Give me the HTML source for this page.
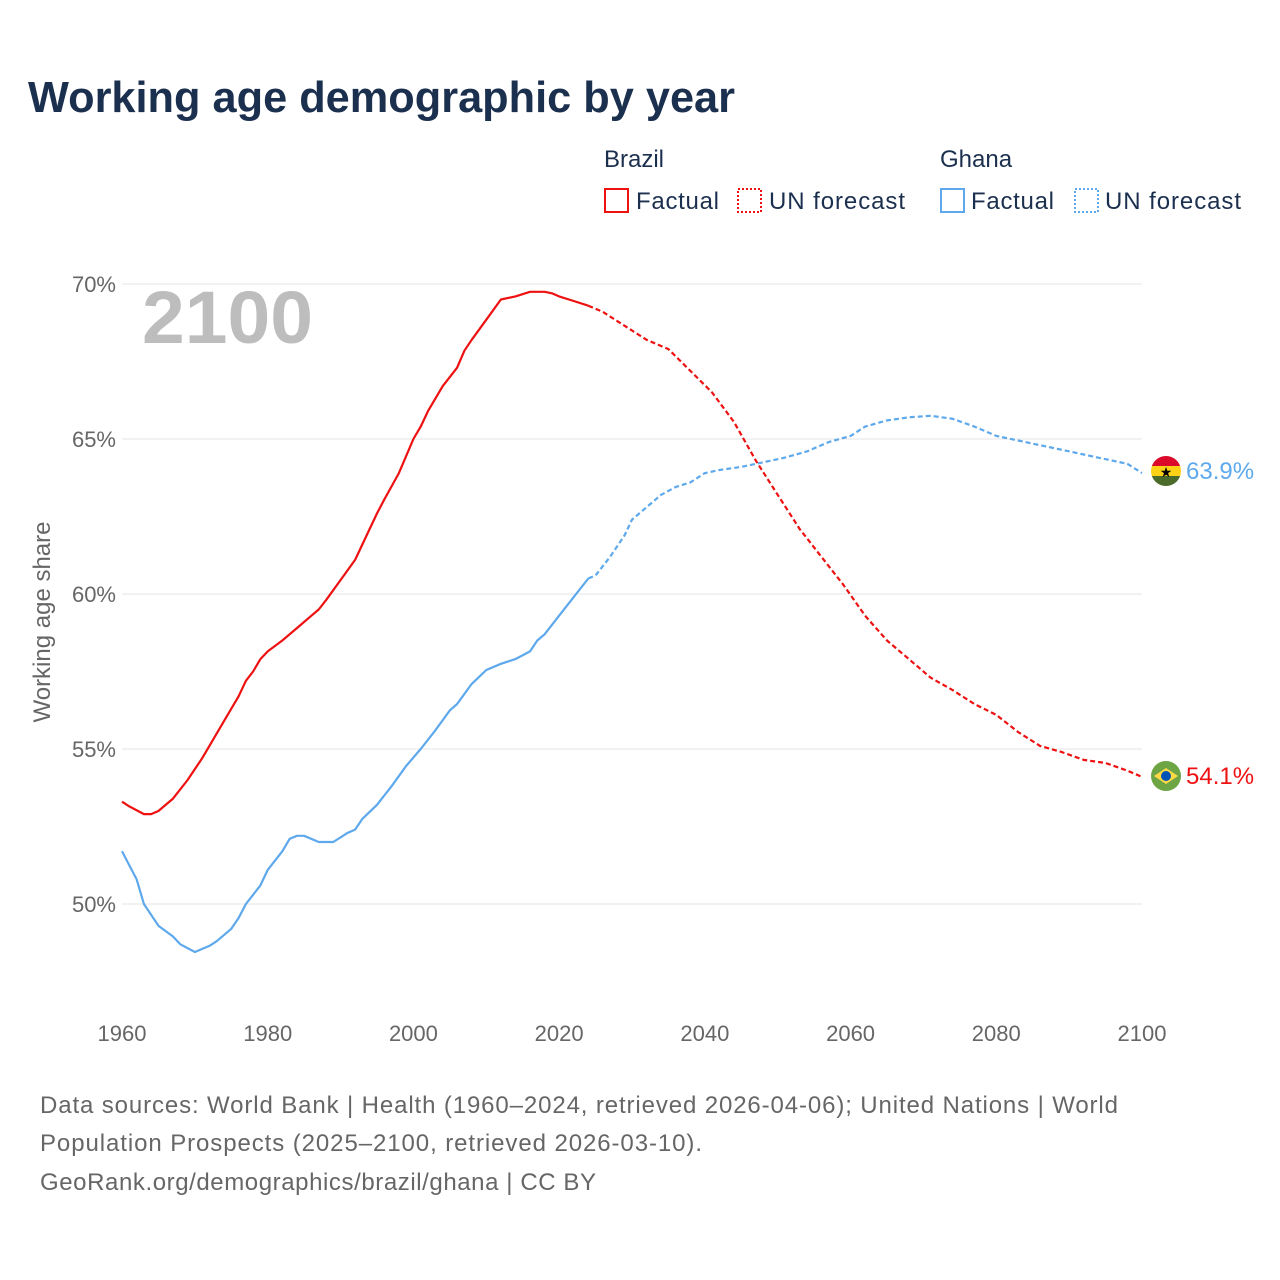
<!DOCTYPE html>
<html><head><meta charset="utf-8"><style>
html,body{margin:0;padding:0;background:#fff;width:1280px;height:1280px;overflow:hidden}
svg{display:block;font-family:"Liberation Sans",sans-serif}
</style></head><body>
<svg id="chart" width="1280" height="1280" viewBox="0 0 1280 1280">
<text x="28" y="112" font-size="44" font-weight="bold" fill="#1b2f4e" textLength="707" lengthAdjust="spacingAndGlyphs">Working age demographic by year</text>
<g font-size="24" fill="#1b2f4e">
<text x="604" y="167">Brazil</text>
<text x="940" y="167">Ghana</text>
<rect x="605" y="189" width="23" height="23" fill="none" stroke="#ee1111" stroke-width="2"/>
<text x="636" y="209" textLength="83">Factual</text>
<rect x="738" y="189" width="23" height="23" fill="none" stroke="#ee1111" stroke-width="2" stroke-dasharray="2,2"/>
<text x="769" y="209" textLength="136">UN forecast</text>
<rect x="941" y="189" width="23" height="23" fill="none" stroke="#5ea8ec" stroke-width="2"/>
<text x="971" y="209" textLength="83">Factual</text>
<rect x="1075" y="189" width="23" height="23" fill="none" stroke="#5ea8ec" stroke-width="2" stroke-dasharray="2,2"/>
<text x="1105" y="209" textLength="136">UN forecast</text>
</g>
<g id="grid"></g>
<text x="142" y="343" font-size="74" font-weight="bold" fill="#bdbdbd" textLength="171" lengthAdjust="spacingAndGlyphs">2100</text>
<text transform="translate(50,622) rotate(-90)" text-anchor="middle" font-size="24" fill="#666">Working age share</text>
<g id="series"></g>
<g>
<clipPath id="cg"><circle cx="1166" cy="471" r="15"/></clipPath>
<g clip-path="url(#cg)"><rect x="1150" y="455" width="32" height="11" fill="#dc0a2a"/><rect x="1150" y="466" width="32" height="10" fill="#fcd116"/><rect x="1150" y="476" width="32" height="11" fill="#4a6b2a"/></g>
<text x="1166" y="477" text-anchor="middle" font-size="14" fill="#000">★</text>
</g>
<g>
<circle cx="1166" cy="776" r="15" fill="#6da544"/>
<polygon points="1154,776 1166,768 1178,776 1166,784" fill="#ffda44"/>
<circle cx="1166" cy="776" r="5" fill="#0052b4"/>
</g>
<text x="1186" y="479" font-size="24" fill="#5ea8ec">63.9%</text>
<text x="1186" y="784" font-size="24" fill="#ee1111">54.1%</text>
<g font-size="24" fill="#666">
<text x="40" y="1113" textLength="1078">Data sources: World Bank | Health (1960–2024, retrieved 2026-04-06); United Nations | World</text>
<text x="40" y="1151" textLength="662">Population Prospects (2025–2100, retrieved 2026-03-10).</text>
<text x="40" y="1190" textLength="556">GeoRank.org/demographics/brazil/ghana | CC BY</text>
</g>
</svg>
<script>
const yTicks=[50,55,60,65,70];
const xTicks=[1960,1980,2000,2020,2040,2060,2080,2100];
const brazilYears=[1960,1961,1963,1964,1965,1967,1969,1971,1972,1974,1976,1977,1978,1979,1980,1982,1984,1986,1987,1988,1990,1992,1993,1995,1996,1998,2000,2001,2002,2004,2006,2007,2008,2010,2012,2014,2016,2018,2019,2020,2022,2024];
const brazilValues=[53.3,53.15,52.9,52.9,53.0,53.4,54.0,54.7,55.1,55.9,56.7,57.2,57.5,57.9,58.15,58.5,58.9,59.3,59.5,59.8,60.45,61.1,61.6,62.6,63.05,63.9,65.0,65.4,65.9,66.7,67.3,67.85,68.2,68.85,69.5,69.6,69.75,69.75,69.7,69.6,69.45,69.3];
const brazilFcYears=[2024,2026,2028,2030,2032,2035,2038,2041,2044,2047,2050,2053,2056,2059,2062,2065,2068,2071,2074,2077,2080,2083,2086,2089,2092,2095,2098,2100];
const brazilFcValues=[69.3,69.1,68.8,68.5,68.2,67.9,67.2,66.5,65.55,64.3,63.2,62.1,61.2,60.3,59.3,58.5,57.9,57.3,56.9,56.45,56.1,55.55,55.1,54.9,54.65,54.55,54.3,54.1];
const ghanaYears=[1960,1962,1963,1965,1967,1968,1970,1972,1973,1975,1976,1977,1979,1980,1982,1983,1984,1985,1987,1989,1991,1992,1993,1995,1996,1997,1999,2001,2003,2005,2006,2008,2010,2012,2014,2016,2017,2018,2020,2022,2024];
const ghanaValues=[51.7,50.8,50.0,49.3,48.95,48.7,48.45,48.65,48.8,49.2,49.55,50.0,50.6,51.1,51.7,52.1,52.2,52.2,52.0,52.0,52.3,52.4,52.75,53.2,53.5,53.8,54.45,55.0,55.6,56.25,56.45,57.1,57.55,57.75,57.9,58.15,58.5,58.7,59.3,59.9,60.5];
const ghanaFcYears=[2024,2025,2027,2029,2030,2032,2034,2036,2038,2040,2042,2045,2048,2051,2054,2057,2060,2062,2065,2068,2071,2074,2077,2080,2083,2086,2089,2092,2095,2098,2100];
const ghanaFcValues=[60.5,60.6,61.2,61.9,62.4,62.8,63.2,63.45,63.6,63.9,64.0,64.1,64.25,64.4,64.6,64.9,65.1,65.4,65.6,65.7,65.75,65.65,65.4,65.1,64.95,64.8,64.65,64.5,64.35,64.2,63.9];

const NS="http://www.w3.org/2000/svg";
const xS=y=>122+(y-1960)*(1020/140);
const yS=v=>904-(v-50)*31;
const grid=document.getElementById('grid'),ser=document.getElementById('series');
yTicks.forEach(t=>{
  const l=document.createElementNS(NS,'line');
  l.setAttribute('x1',122);l.setAttribute('x2',1142);l.setAttribute('y1',yS(t));l.setAttribute('y2',yS(t));
  l.setAttribute('stroke','#e6e6e6');l.setAttribute('stroke-width','1');
  
  
  grid.appendChild(l);
  const tx=document.createElementNS(NS,'text');
  tx.setAttribute('x',116);tx.setAttribute('y',yS(t)+8);tx.setAttribute('text-anchor','end');
  tx.setAttribute('font-size','22');tx.setAttribute('fill','#666');tx.textContent=t+'%';
  
  
  grid.appendChild(tx);
});
xTicks.forEach(t=>{
  const tx=document.createElementNS(NS,'text');
  tx.setAttribute('x',xS(t));tx.setAttribute('y',1041);tx.setAttribute('text-anchor','middle');
  tx.setAttribute('font-size','22');tx.setAttribute('fill','#666');tx.textContent=t;
  
  
  grid.appendChild(tx);
});
function line(xs,vs,color,dash,name){
  const p=document.createElementNS(NS,'path');
  p.setAttribute('d',xs.map((x,i)=>(i?'L':'M')+xS(x).toFixed(1)+','+yS(vs[i]).toFixed(1)).join(''));
  p.setAttribute('fill','none');p.setAttribute('stroke',color);p.setAttribute('stroke-width','2.2');
  p.setAttribute('stroke-linejoin','round');
  if(dash)p.setAttribute('stroke-dasharray','5,3');
  
  
  ser.appendChild(p);
}
line(ghanaYears,ghanaValues,'#5ea8ec',false,'ghana-factual-line');
line(ghanaFcYears,ghanaFcValues,'#5ea8ec',true,'ghana-forecast-line');
line(brazilYears,brazilValues,'#ee1111',false,'brazil-factual-line');
line(brazilFcYears,brazilFcValues,'#ee1111',true,'brazil-forecast-line');
</script>
</body></html>
